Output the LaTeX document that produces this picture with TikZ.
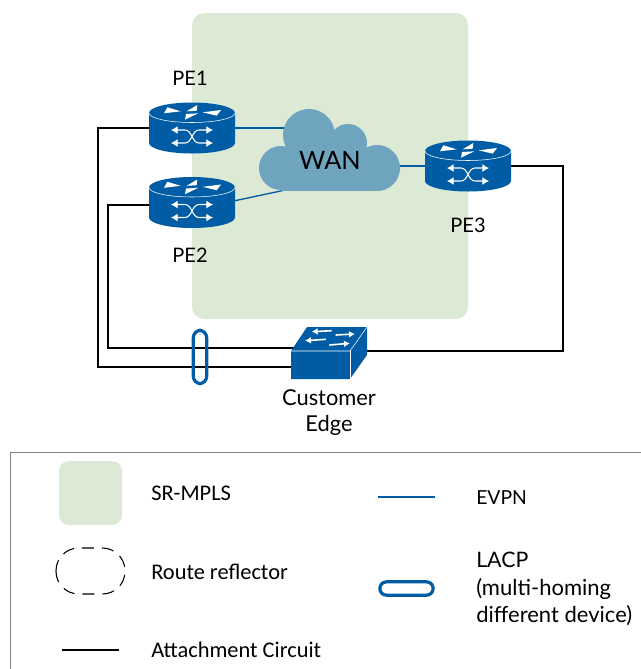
\documentclass[tikz,border=0pt]{standalone}
\usepackage{fontspec}
\usetikzlibrary{arrows.meta}
\setmainfont{Lato}
\newfontfamily\legendfont{Carlito}
\definecolor{regiongreen}{HTML}{DCEAD5}
\definecolor{hpeblue}{HTML}{005DA5}
\definecolor{wanblue}{HTML}{6FA4BF}
\definecolor{framegray}{HTML}{7F7F7F}
\tikzset{
    routerbox/.style={minimum width=64.5pt, minimum height=38pt, inner sep=0pt},
    switchbox/.style={minimum width=57pt, minimum height=39pt, inner sep=0pt},
    wanbox/.style={minimum width=105.75pt, minimum height=61.5pt, inner sep=0pt},
    devlabel/.style={font=\fontsize{15}{18}\selectfont, inner sep=0pt},
    legendlabel/.style={font=\fontsize{16.8}{20}\selectfont\legendfont, anchor=west, inner sep=0pt},
    futlabel/.style={font=\fontsize{16.5}{20}\selectfont, anchor=west, inner sep=0pt},
    acline/.style={black, line width=1pt},
    evpnline/.style={hpeblue, line width=1pt},
    lacpring/.style={draw=hpeblue, line width=2.4pt, fill=none},
    router/.pic={
        \fill[hpeblue] (-43,-15) -- (-43,15) arc[start angle=180, end angle=0, x radius=43, y radius=10.5]
            -- (43,-15) arc[start angle=0, end angle=-180, x radius=43, y radius=10.5] -- cycle;
        \draw[white, line width=0.4pt] (-43,-15) arc[start angle=180, end angle=0, x radius=43, y radius=9.5];
        % top triangles
        \fill[white] (-28,-14.7) -- (-24.7,-20.7) -- (-11.3,-16.7) -- cycle;
        \fill[white] (5.3,-23) -- (4.7,-17.3) -- (-5.3,-16.7) -- cycle;
        \fill[white] (-7,-8.3) -- (6.3,-14.7) -- (-6,-14) -- cycle;
        \fill[white] (10.7,-15.7) -- (29,-18) -- (24.7,-12.3) -- cycle;
        % crossing arrows
        \draw[white, line width=0.8pt, {Latex[length=5pt, width=6pt]}-{Latex[length=5pt, width=6pt]}] (-21,2) -- (-7,2) .. controls (0,2) and (0,15) .. (7,15) -- (21,15);
        \draw[white, line width=0.8pt, {Latex[length=5pt, width=6pt]}-{Latex[length=5pt, width=6pt]}] (-21,15) -- (-7,15) .. controls (0,15) and (0,2) .. (7,2) -- (21,2);
    },
    cuswitch/.pic={
        \fill[hpeblue] (-38,-2) -- (-22,-26) -- (38,-26) -- (38,2) -- (21,26) -- (-38,26) -- cycle;
        \draw[white, line width=0.4pt] (-38,-2) -- (21,-2) -- (38,-26);
        \draw[white, line width=0.4pt] (21,-2) -- (21,26);
        % top arrows
        \draw[white, line width=1.2pt, -{Latex[length=4.5pt, width=5pt]}] (2.7,-22.3) -- (-17.3,-21.3);
        \draw[white, line width=1.2pt, -{Latex[length=4.5pt, width=5pt]}] (6.7,-18) -- (26,-19);
        \draw[white, line width=1.2pt, -{Latex[length=4.5pt, width=5pt]}] (-3,-13.7) -- (-24,-12.3);
        \draw[white, line width=1.2pt, -{Latex[length=4.5pt, width=5pt]}] (0.3,-8) -- (21,-9.7);
    }
}
\begin{document}
\begin{tikzpicture}[x=0.75pt, y=-0.75pt]
    \useasboundingbox (0,0) rectangle (641,669);

    % SR-MPLS region
    \fill[regiongreen, rounded corners=9pt] (192,13) rectangle (468,319);

    % Devices
    \node[routerbox] (pe1) at (192,128) {};
    \node[routerbox] (pe2) at (192,202.5) {};
    \node[routerbox] (pe3) at (468,166) {};
    \node[switchbox] (ce) at (329,353) {};
    \node[wanbox] (wan) at (329.5,150) {};

    \coordinate (pe2ac) at (192,205);
    \coordinate (pe2evpn) at (235,200.7);
    \coordinate (wanpe2) at (290,189);
    \coordinate (ceupper) at (300,348);
    \coordinate (celower) at (300,367);
    \coordinate (ceright) at (360,351);

    % Attachment circuits
    \draw[acline] (pe1.west) -- (98,128) |- (celower);
    \draw[acline] (pe2ac) -- (108,205) |- (ceupper);
    \draw[acline] (pe3.east) -- (563,166) |- (ceright);

    % EVPN links
    \draw[evpnline] (pe1.east) -- (pe1.east -| wan.center);
    \draw[evpnline] (pe2evpn) -- (wanpe2);
    \draw[evpnline] (pe3.west) -- (pe3.west -| wan.center);

    % WAN cloud
    \fill[wanblue] (281,168) circle (22);
    \fill[wanblue] (309,135) circle (26);
    \fill[wanblue] (348,143) circle (19);
    \fill[wanblue] (377,168) circle (23);
    \fill[wanblue] (281,150) rectangle (377,191);
    \node[devlabel, font=\fontsize{19}{22}\selectfont] (wanlabel) at (330,160) {WAN};

    \pic at (pe1) {router};
    \pic at (pe2) {router};
    \pic at (pe3) {router};
    \pic at (ce) {cuswitch};

    % LACP bundle
    \node[lacpring, rounded corners=5.5pt, minimum width=10pt, minimum height=40pt, inner sep=0pt] (lacp) at (200,357) {};

    % Labels
    \node[devlabel] (pe1label) at (190,78) {PE1};
    \node[devlabel] (pe2label) at (190,255) {PE2};
    \node[devlabel] (pe3label) at (468,225) {PE3};
    \node[devlabel, font=\fontsize{16.4}{20}\selectfont] (celabel1) at (329,398) {Customer};
    \node[devlabel, font=\fontsize{16.4}{20}\selectfont] (celabel2) at (329,425) {Edge};

    % Legend frame
    \draw[framegray, line width=1pt] (10.5,669) -- (10.5,452.5) -- (641,452.5);

    % Legend
    \fill[regiongreen, rounded corners=7.5pt] (59,461) rectangle (122,525);
    \draw[black, line width=0.8pt, dash pattern=on 9pt off 6pt, rounded corners=17pt] (56,548) rectangle (125,594);
    \coordinate (acleft) at (62,650);
    \coordinate (acright) at (119,650);
    \draw[acline] (acleft) -- (acright);
    \coordinate (evpnleft) at (378,497);
    \coordinate (evpnright) at (435,497);
    \draw[evpnline] (evpnleft) -- (evpnright);
    \node[lacpring, rounded corners=5pt, minimum width=40pt, minimum height=10pt, inner sep=0pt] (lacpkey) at (406.5,588.5) {};

    \node[legendlabel] (keysr) at (151,493) {SR-MPLS};
    \node[legendlabel] (keyrr) at (151,572) {Route reflector};
    \node[legendlabel] (keyac) at (151,650) {Attachment Circuit};
    \node[futlabel, font=\fontsize{14.5}{18}\selectfont] (keyevpn) at (476,498) {EVPN};
    \node[futlabel, font=\fontsize{16}{18}\selectfont] (keylacp) at (476,560) {LACP};
    \node[futlabel] (keyhome) at (476,589) {(multi-homing};
    \node[futlabel] (keydiff) at (476,616) {different device)};
\end{tikzpicture}
\end{document}
